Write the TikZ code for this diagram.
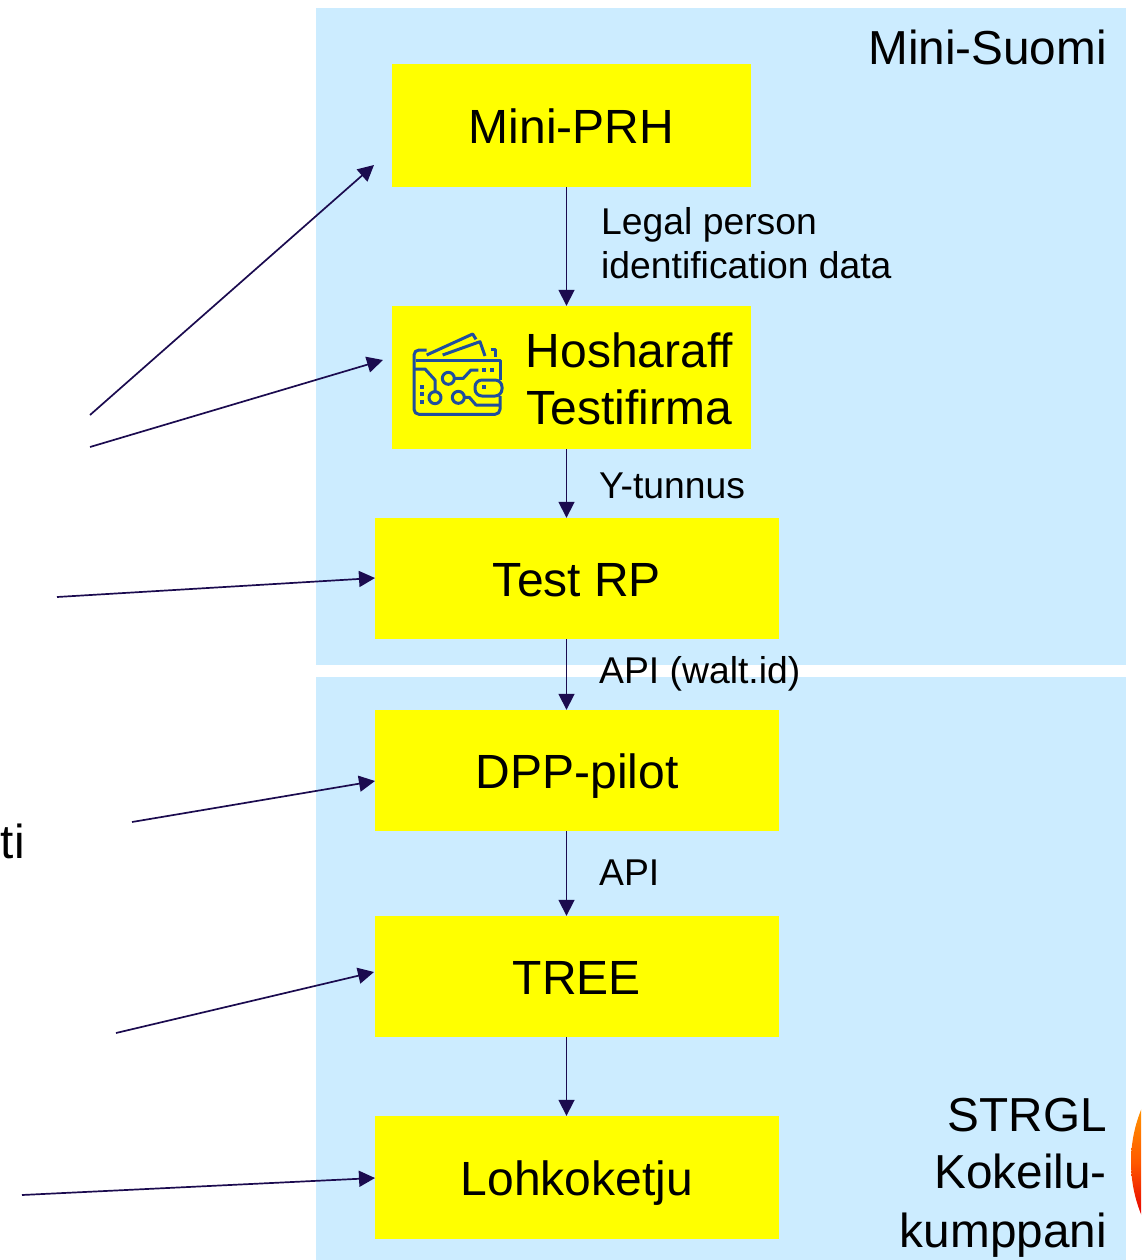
\documentclass[tikz,border=0pt]{standalone}
\usepackage{fontspec}
\setmainfont{Liberation Sans}
\usetikzlibrary{arrows.meta,positioning}
\definecolor{panelblue}{HTML}{CCECFF}
\definecolor{boxyellow}{HTML}{FFFF00}
\definecolor{arrowink}{HTML}{1B0B4F}
\definecolor{walletblue}{HTML}{1F4E9E}
\tikzset{
  panel/.style={fill=panelblue,draw=none},
  box/.style={fill=boxyellow,draw=none,inner sep=0pt,font=\fontsize{48}{57}\selectfont,text height=36pt,text depth=0pt,align=center},
  bigtext/.style={inner sep=0pt,font=\fontsize{48}{57}\selectfont,align=center},
  sidetext/.style={inner sep=0pt,anchor=base east,font=\fontsize{47.7}{57}\selectfont},
  small/.style={inner sep=0pt,anchor=base west,font=\fontsize{37.3}{44}\selectfont},
  link/.style={draw=arrowink,line width=1.7pt,-{Triangle[length=16pt,width=16pt]}},
  wallet/.style={draw=walletblue,line width=3pt,line join=round,fill=none},
  walletdot/.style={fill=walletblue,draw=none},
}
\begin{document}
\begin{tikzpicture}[x=1pt,y=-1pt]
\useasboundingbox (0,0) rectangle (1141,1260);
\clip (0,0) rectangle (1141,1260);
% panels
\fill[panel] (316,8) rectangle (1126,665);
\fill[panel] (316,677) rectangle (1126,1260);
% logo
\begin{scope}
  \clip (1271,1162) circle [radius=140pt];
  \shade[top color=orange!85!yellow,bottom color=red!90!black,middle color=orange!70!red] (1125,1108) rectangle (1141,1216);
\end{scope}
% boxes
\node[box,minimum width=359pt,minimum height=123pt] (prh) at (571.5,125.5) {Mini-PRH};
\node[box,minimum width=359pt,minimum height=143pt] (hosh) at (571.5,377.5) {};
\node[box,minimum width=404pt,minimum height=121pt] (rp) at (577,578.5) {Test RP};
\node[box,minimum width=404pt,minimum height=121pt] (dpp) at (577,770.5) {DPP-pilot};
\node[box,minimum width=404pt,minimum height=121pt] (tree) at (577,976.5) {TREE};
\node[box,minimum width=404pt,minimum height=123pt] (chain) at (577,1177.5) {Lohkoketju};
\node[bigtext,anchor=base] (hoshtext) at (629.5,424) {Hosharaff\\Testifirma};
% wallet icon
\begin{scope}[shift={(400,320)},x=0.33333pt,y=-0.33333pt]
  \draw[wallet,rounded corners=5pt] (80,90) -- (42,90) -- (42,283) -- (300,283) -- (300,228);
  \draw[wallet] (47,120) -- (300,120) -- (300,180);
  \draw[wallet,rounded corners=7pt] (306,180) -- (225,180) -- (225,228) -- (306,228) -- cycle;
  \draw[wallet] (80,105) -- (218,42) -- (228,58);
  \draw[wallet] (128,105) -- (240,65) -- (255,108);
  \draw[wallet] (272,88) -- (285,88) -- (285,110);
  \draw[wallet] (45,147) -- (75,147) -- (105,180) -- (105,215);
  \draw[wallet] (105,233) circle [radius=6pt];
  \draw[wallet] (145,175) circle [radius=6pt];
  \draw[wallet] (165,175) -- (190,175) -- (213,150) -- (235,150);
  \draw[wallet] (175,232) circle [radius=6pt];
  \draw[wallet] (193,232) -- (208,232) -- (228,255) -- (300,255);
  \foreach \px/\py in {252/150,276/150,253/200,66/200,66/222,66/245}
    \fill[walletdot] (\px-6,\py-6) rectangle (\px+6,\py+6);
\end{scope}
% vertical links
\coordinate (vx) at (566.5,0);
\draw[link] (prh.south -| vx) -- (hosh.north -| vx);
\draw[link] (hosh.south -| vx) -- (rp.north -| vx);
\draw[link] (rp.south -| vx) -- (dpp.north -| vx);
\draw[link] (dpp.south -| vx) -- (tree.north -| vx);
\draw[link] (tree.south -| vx) -- (chain.north -| vx);
% free arrows
\coordinate (a1s) at (90,415);   \coordinate (a1e) at (374,165);
\coordinate (a2s) at (90,447);   \coordinate (a2e) at (383,360);
\coordinate (a3s) at (57,597);   \coordinate (a3e) at (375,578);
\coordinate (a4s) at (132,822);  \coordinate (a4e) at (375,781);
\coordinate (a5s) at (116,1033); \coordinate (a5e) at (374,972);
\coordinate (a6s) at (22,1195);  \coordinate (a6e) at (375,1178);
\draw[link] (a1s) -- (a1e);
\draw[link] (a2s) -- (a2e);
\draw[link] (a3s) -- (a3e);
\draw[link] (a4s) -- (a4e);
\draw[link] (a5s) -- (a5e);
\draw[link] (a6s) -- (a6e);
% labels
\node[small] (l1) at (601,234) {Legal person};
\node[small] (l2) at (601,278) {identification data};
\node[small] (l3) at (599,498) {Y-tunnus};
\node[small] (l4) at (599,683) {API (walt.id)};
\node[small] (l5) at (599,885) {API};
\node[sidetext] (t1) at (1107,65) {Mini-Suomi};
\node[sidetext] (t2) at (1107,1131) {STRGL};
\node[sidetext] (t3) at (1107,1188) {Kokeilu-};
\node[sidetext] (t4) at (1107,1247) {kumppani};
\node[sidetext] (t5) at (25,858) {tti};
\end{tikzpicture}
\end{document}
